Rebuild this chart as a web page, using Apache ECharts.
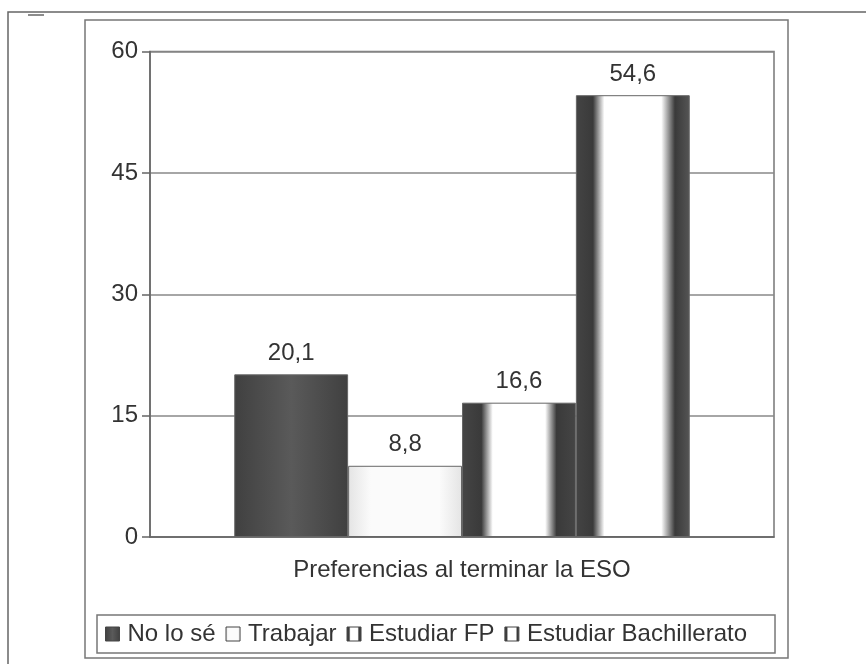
<!DOCTYPE html>
<html>
<head>
<meta charset="utf-8">
<script src="https://cdn.jsdelivr.net/npm/echarts@6/dist/echarts.min.js"></script>
<style>
  html, body { margin: 0; padding: 0; background: #fff; }
  #chart { width: 866px; height: 664px; }
</style>
</head>
<body>
<div id="chart"></div>
<script>
var categories = ["Preferencias al terminar la ESO"];
var seriesNames = ["No lo sé", "Trabajar", "Estudiar FP", "Estudiar Bachillerato"];
var noLoSe = [20.1];
var trabajar = [8.8];
var estudiarFP = [16.6];
var estudiarBach = [54.6];
var yTicks = [0, 15, 30, 45, 60];

var fontFam = "'Liberation Sans', Arial, sans-serif";

function hGrad(stops) {
  return new echarts.graphic.LinearGradient(0, 0, 1, 0, stops.map(function (s) {
    return { offset: s[0], color: s[1] };
  }));
}

var fills = [
  hGrad([[0, "#404040"], [0.5, "#5a5a5a"], [1, "#404040"]]),
  hGrad([[0, "#e4e4e4"], [0.2, "#fbfbfb"], [0.8, "#fbfbfb"], [1, "#e4e4e4"]]),
  hGrad([[0, "#454545"], [0.17, "#3a3a3a"], [0.27, "#ffffff"], [0.73, "#ffffff"], [0.83, "#3a3a3a"], [1, "#454545"]]),
  hGrad([[0, "#444444"], [0.15, "#3a3a3a"], [0.25, "#ffffff"], [0.75, "#ffffff"], [0.87, "#3a3a3a"], [1, "#555555"]])
];
var values = [noLoSe, trabajar, estudiarFP, estudiarBach];

var chartDom = document.getElementById("chart");
var myChart = echarts.init(chartDom);

var option = {
  animation: false,
  backgroundColor: "#fff",
  textStyle: { fontFamily: fontFam },
  graphic: [
    {
      type: "rect",
      shape: { x: 8, y: 12, width: 900, height: 700 },
      style: { fill: "none", stroke: "#666", lineWidth: 1.5 }
    },
    {
      type: "line",
      shape: { x1: 28, y1: 15, x2: 44, y2: 15 },
      style: { stroke: "#666", lineWidth: 1.5 }
    },
    {
      type: "rect",
      shape: { x: 85, y: 20, width: 703, height: 638 },
      style: { fill: "none", stroke: "#777", lineWidth: 1.5 }
    }
  ],
  grid: {
    left: 150,
    right: 92,
    top: 51.5,
    bottom: 127,
    show: true,
    borderColor: "#777",
    borderWidth: 1.5
  },
  legend: {
    data: seriesNames,
    icon: "rect",
    left: 97,
    top: 615,
    padding: [7, 28, 7, 8],
    itemGap: 10,
    itemWidth: 14,
    itemHeight: 14,
    borderColor: "#777",
    borderWidth: 1.5,
    itemStyle: { borderColor: "#444", borderWidth: 1 },
    textStyle: { fontSize: 24, color: "#333", fontFamily: fontFam, padding: [0, 0, 0, 3] }
  },
  xAxis: {
    type: "category",
    data: categories,
    axisLine: { lineStyle: { color: "#666", width: 1.5 } },
    axisTick: { show: false },
    axisLabel: { fontSize: 24, color: "#333", margin: 21, fontFamily: fontFam }
  },
  yAxis: {
    type: "value",
    min: yTicks[0],
    max: yTicks[yTicks.length - 1],
    interval: 15,
    axisLine: { show: true, lineStyle: { color: "#666", width: 1.5 } },
    axisTick: { show: true, length: 8, lineStyle: { color: "#666", width: 1.5 } },
    axisLabel: { fontSize: 24, color: "#333", margin: 12, fontFamily: fontFam },
    splitLine: { lineStyle: { color: "#888", width: 1.5 } }
  },
  series: seriesNames.map(function (name, i) {
    return {
      name: name,
      type: "bar",
      data: values[i],
      barGap: "0%",
      barCategoryGap: "27%",
      itemStyle: { color: fills[i], borderColor: "#666", borderWidth: 1 },
      label: {
        show: true,
        position: "top",
        distance: 9,
        fontSize: 24,
        color: "#333",
        fontFamily: fontFam,
        formatter: function (p) {
          return p.value.toFixed(1).replace(".", ",");
        }
      }
    };
  })
};

myChart.setOption(option);
window.addEventListener("resize", myChart.resize);
</script>
</body>
</html>
